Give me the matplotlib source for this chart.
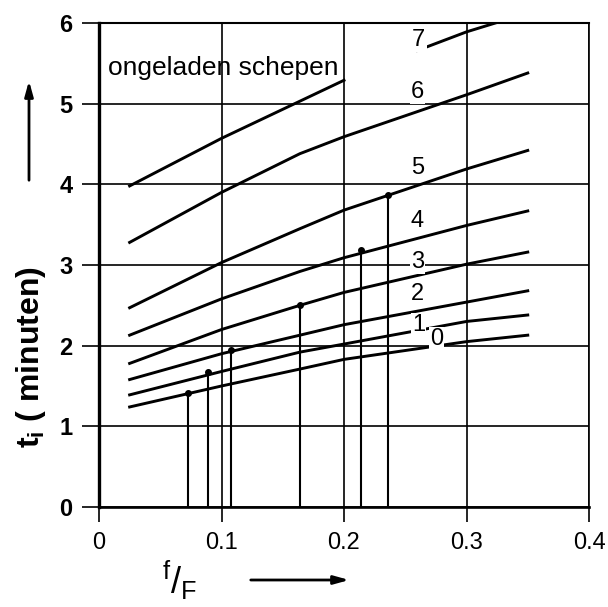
import matplotlib
matplotlib.use("Agg")
import matplotlib.pyplot as plt
import numpy as np

plt.rcParams['font.family'] = ['Liberation Sans', 'DejaVu Sans']
plt.rcParams['mathtext.fontset'] = 'custom'
plt.rcParams['mathtext.rm'] = 'Liberation Sans'
plt.rcParams['mathtext.bf'] = 'Liberation Sans:bold'

# f/F values where the curves were read
fF = [0.025, 0.1, 0.164, 0.2, 0.3, 0.35]
t0 = [1.24, 1.50, 1.71, 1.83, 2.05, 2.13]
t1 = [1.39, 1.68, 1.92, 2.02, 2.30, 2.38]
t2 = [1.58, 1.90, 2.13, 2.26, 2.54, 2.68]
t3 = [1.78, 2.20, 2.50, 2.66, 3.01, 3.16]
t4 = [2.13, 2.58, 2.92, 3.09, 3.49, 3.67]
t5 = [2.47, 3.03, 3.45, 3.68, 4.19, 4.42]
t6 = [3.28, 3.90, 4.38, 4.59, 5.11, 5.38]
curves = [t0, t1, t2, t3, t4, t5, t6]

# curve 7 (ongeladen schepen), broken by the text
fF7a = [0.025, 0.1, 0.2]
t7a = [3.98, 4.57, 5.29]
fF7b = [0.26, 0.3, 0.33]
t7b = [5.66, 5.89, 6.03]

# vertical drop lines with dot on top
drop_x = [0.073, 0.089, 0.108, 0.164, 0.214, 0.236]
drop_y = [1.41, 1.67, 1.95, 2.50, 3.19, 3.87]

# curve labels
lab_txt = ['0', '1', '2', '3', '4', '5', '6', '7']
lab_x = [0.2755, 0.261, 0.260, 0.260, 0.260, 0.260, 0.260, 0.261]
lab_y = [2.08, 2.26, 2.64, 3.04, 3.54, 4.20, 5.15, 5.79]

fig = plt.figure(figsize=(6.08, 6.07), dpi=100)
ax = fig.add_axes([99/608, 100/607, 490/608, 484/607])

ax.set_xlim(0, 0.4)
ax.set_ylim(0, 6)
ax.set_xticks([0, 0.1, 0.2, 0.3, 0.4])
ax.set_xticklabels(['0', '0.1', '0.2', '0.3', '0.4'])
ax.set_yticks(range(7))
ax.grid(True, color='black', lw=1.2)
ax.set_axisbelow(True)

ax.tick_params(axis='x', length=11, width=1.2, pad=7, labelsize=17)
ax.tick_params(axis='y', length=12, width=1.2, pad=7, labelsize=17)
for lab in ax.get_yticklabels():
    lab.set_fontweight('bold')

ax.spines['left'].set_linewidth(2.4)
ax.spines['bottom'].set_linewidth(1.9)
ax.spines['top'].set_linewidth(1.5)
ax.spines['right'].set_linewidth(1.2)

for c in curves:
    ax.plot(fF, c, color='black', lw=2.1, zorder=3)
ax.plot(fF7a, t7a, color='black', lw=2.1, zorder=3)
ax.plot(fF7b, t7b, color='black', lw=2.1, zorder=3)

ax.vlines(drop_x, 0, drop_y, color='black', lw=1.5, zorder=3)
ax.plot(drop_x, drop_y, 'o', color='black', ms=4, zorder=4)

for s, x, y in zip(lab_txt, lab_x, lab_y):
    ax.text(x, y, s, fontsize=17, ha='center', va='center', zorder=5,
            bbox=dict(boxstyle='square,pad=0.05', fc='white', ec='none'))

ax.text(0.0073, 5.44, 'ongeladen schepen', fontsize=19, ha='left',
        va='center', zorder=5)

# axis titles with arrows
fig.text(31/608, 1 - 357/607, r'$\mathbf{t_i}$ ( minuten)', rotation=90,
         fontsize=23, fontweight='bold', ha='center', va='center')
fig.text(180/608, 1 - 580/607, r'$^{\mathrm{f}}/_{\mathrm{F}}$',
         fontsize=26, ha='center', va='center')

ax.annotate('', xy=(29/608, 1 - 78/607), xytext=(29/608, 1 - 183/607),
            xycoords='figure fraction', textcoords='figure fraction',
            arrowprops=dict(arrowstyle='-|>,head_width=0.25,head_length=0.9',
                            color='black', lw=2))
ax.annotate('', xy=(352/608, 1 - 580/607), xytext=(248/608, 1 - 580/607),
            xycoords='figure fraction', textcoords='figure fraction',
            arrowprops=dict(arrowstyle='-|>,head_width=0.25,head_length=0.9',
                            color='black', lw=2))

fig.savefig('out.png', dpi=100)
